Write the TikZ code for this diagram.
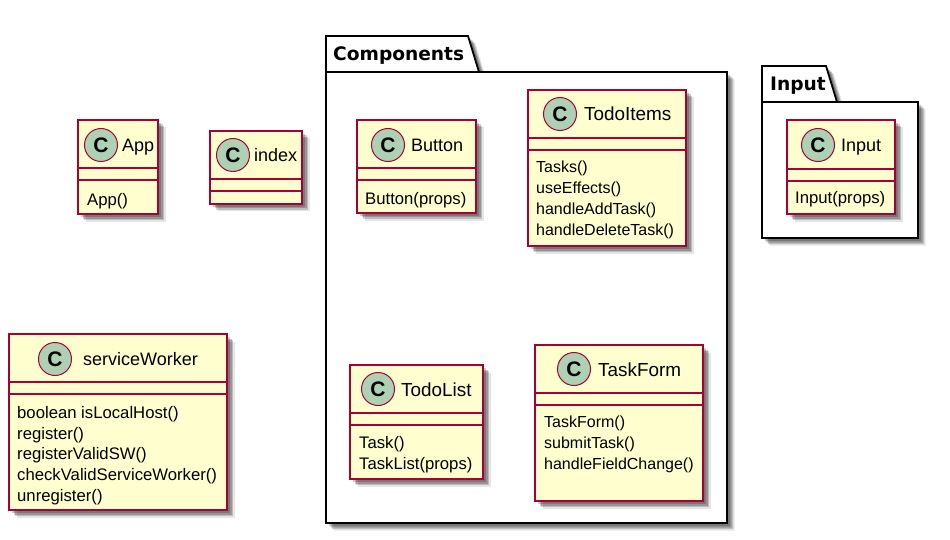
\documentclass[tikz,border=0pt]{standalone}
\usepackage{fontspec}
\setmainfont{Liberation Sans}
\newfontfamily\pkgfont{DejaVu Sans}
\usepackage{tikz}
\usetikzlibrary{shadows}
\definecolor{umlred}{HTML}{A80036}
\definecolor{umlfill}{HTML}{FEFECE}
\definecolor{umlgreen}{HTML}{ADD1B2}
\tikzstyle{softshadow}=[general shadow={shadow xshift=3pt,shadow yshift=-3pt,fill=black,opacity=.2},
    general shadow={shadow xshift=4.5pt,shadow yshift=-4.5pt,fill=black,opacity=.2},
    general shadow={shadow xshift=6pt,shadow yshift=-6pt,fill=black,opacity=.18},
    general shadow={shadow xshift=7.5pt,shadow yshift=-7.5pt,fill=black,opacity=.1}]
\tikzstyle{cls}=[shape=rectangle,draw=umlred,fill=umlfill,line width=1.6pt,inner sep=0pt,softshadow]
\tikzstyle{badge}=[shape=circle,draw=umlred,fill=umlgreen,line width=1pt,minimum size=33pt,inner sep=0pt,font=\fontsize{21}{21}\selectfont\bfseries]
\tikzstyle{clsname}=[anchor=base west,inner sep=0pt,font=\fontsize{18}{18}\selectfont]
\tikzstyle{clsnamewide}=[anchor=base west,inner sep=0pt,font=\fontsize{18.9}{18.9}\selectfont]
\tikzstyle{members}=[anchor=north west,inner sep=0pt,align=left,font=\fontsize{16.7}{20.8}\selectfont]
\tikzstyle{membersnarrow}=[anchor=north west,inner sep=0pt,align=left,font=\fontsize{16}{20.8}\selectfont]
\tikzstyle{sepline}=[draw=umlred,line width=1.2pt]
\tikzstyle{pkg}=[draw=black,fill=white,line width=1.8pt,line join=miter,softshadow]
\tikzstyle{pkgname}=[anchor=base west,inner sep=0pt,font=\fontsize{18.6}{18.6}\selectfont\pkgfont\bfseries]

\begin{document}
\begin{tikzpicture}[x=1pt,y=-1pt]
            \useasboundingbox (0,0) rectangle (950,540);
            % packages
            \draw[pkg] (326,72) -- (326,36) -- (468,36) -- (479,72) -- (727,72) -- (727,523) -- (326,523) -- cycle;
            \draw[line width=1.8pt] (326,72) -- (479,72);
            \node[pkgname] (components) at (333,61) {Components};
            \draw[pkg] (762,102) -- (762,66) -- (826,66) -- (837,102) -- (918,102) -- (918,238) -- (762,238) -- cycle;
            \draw[line width=1.8pt] (762,102) -- (837,102);
            \node[pkgname] (inputpkg) at (770,91) {Input};
            % classes
            \node[cls,minimum width=80pt,minimum height=94pt] (app) at (118,167) {};
            \node[cls,minimum width=92pt,minimum height=73pt] (index) at (256,167.5) {};
            \node[cls,minimum width=218pt,minimum height=176pt] (worker) at (118,422) {};
            \node[cls,minimum width=119pt,minimum height=93pt] (button) at (416.5,166.5) {};
            \node[cls,minimum width=158pt,minimum height=156pt] (items) at (607,168) {};
            \node[cls,minimum width=133pt,minimum height=114pt] (list) at (416.5,422) {};
            \node[cls,minimum width=168pt,minimum height=156pt] (form) at (619,423) {};
            \node[cls,minimum width=108pt,minimum height=94pt] (input) at (841,167) {};
            % compartments
            \foreach \n/\a/\b in {app/168/180,index/179/191,worker/382/394,button/168/180,
                items/138/150,list/413/425,form/393/405,input/169/181}
            {
                \draw[sepline] (\n.west |- 0,\a) -- (\n.east |- 0,\a);
                \draw[sepline] (\n.west |- 0,\b) -- (\n.east |- 0,\b);
            }
            % headers
            \node[badge] (appC) at (101,145) {C};
            \node[clsname] (appT) at (122,152) {App};
            \node[badge] (indexC) at (233,155) {C};
            \node[clsname] (indexT) at (254,162) {index};
            \node[badge] (workerC) at (55,359) {C};
            \node[clsname] (workerT) at (83,365) {serviceWorker};
            \node[badge] (buttonC) at (388,145) {C};
            \node[clsname] (buttonT) at (411,152) {Button};
            \node[badge] (itemsC) at (560,114) {C};
            \node[clsnamewide] (itemsT) at (584,121) {TodoItems};
            \node[badge] (listC) at (378,389) {C};
            \node[clsnamewide] (listT) at (401,396.5) {TodoList};
            \node[badge] (formC) at (574,369) {C};
            \node[clsnamewide] (formT) at (598,376) {TaskForm};
            \node[badge] (inputC) at (818,145) {C};
            \node[clsname] (inputT) at (841,152) {Input};
            % members
            \node[members] (appM) at (87,193) {App()};
            \node[members] (workerM) at (17,406) {boolean isLocalHost()\\register()\\registerValidSW()\\checkValidServiceWorker()\\unregister()};
            \node[members] (buttonM) at (365,192) {Button(props)};
            \node[membersnarrow] (itemsM) at (536,161) {Tasks()\\useEffects()\\handleAddTask()\\handleDeleteTask()};
            \node[members] (listM) at (359,436) {Task()\\TaskList(props)};
            \node[membersnarrow] (formM) at (544,416) {TaskForm()\\submitTask()\\handleFieldChange()};
            \node[members] (inputM) at (795,191) {Input(props)};
        \end{tikzpicture}
\end{document}
